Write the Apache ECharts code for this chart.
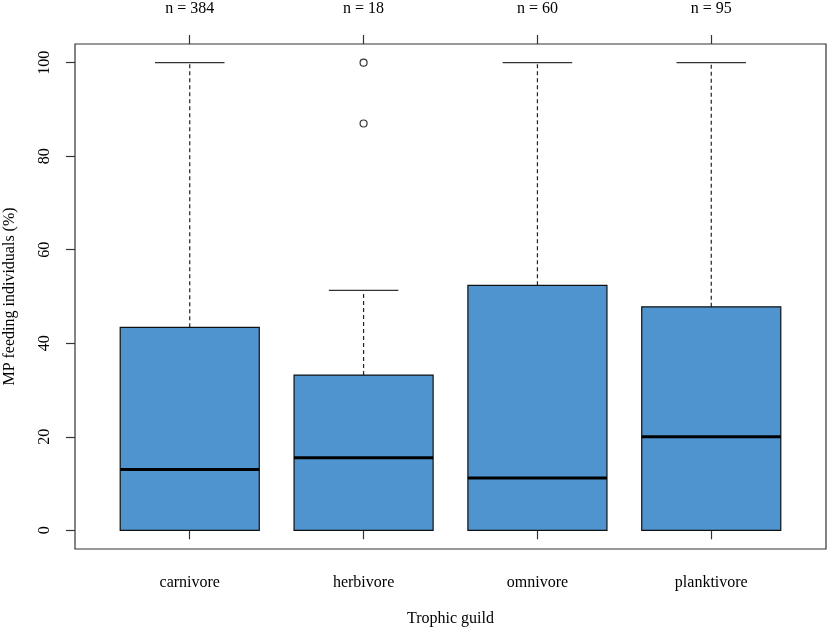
<!DOCTYPE html>
<html>
<head>
<meta charset="utf-8">
<script src="https://cdn.jsdelivr.net/npm/echarts@6/dist/echarts.min.js"></script>
<style>
  html, body { margin: 0; padding: 0; background: #fff; }
  #chart { width: 829px; height: 628px; }
</style>
</head>
<body>
<div id="chart"></div>
<script>
// boxplot stats
var categories = ['carnivore', 'herbivore', 'omnivore', 'planktivore'];
var counts = [384, 18, 60, 95];
var lowerWhisker = [0, 0, 0, 0];
var q1 = [0, 0, 0, 0];
var medians = [13, 15.5, 11.2, 20];
var q3 = [43.4, 33.2, 52.4, 47.8];
var upperWhisker = [100, 51.3, 100, 100];
var outliers = [[], [87, 100], [], []];
var yTicks = [0, 20, 40, 60, 80, 100];
var xTicks = [1, 2, 3, 4];

var font = 'Liberation Serif';

var boxData = categories.map(function (c, i) {
    return [i + 1, lowerWhisker[i], q1[i], medians[i], q3[i], upperWhisker[i]];
});

var outlierData = [];
outliers.forEach(function (list, i) {
    list.forEach(function (v) {
        outlierData.push([i + 1, v]);
    });
});

var renderBox = function (params, api) {
    var x = api.value(0);
    var lo = api.value(1), b1 = api.value(2), med = api.value(3), b3 = api.value(4), hi = api.value(5);
    var hw = 0.4, cw = 0.2;
    var p = function (xx, yy) { return api.coord([xx, yy]); };
    var dash = { stroke: '#222', lineWidth: 1.2, lineDash: [4, 3] };
    var solid = { stroke: '#333', lineWidth: 1.2 };
    var tl = p(x - hw, b3), br = p(x + hw, b1);
    return {
        type: 'group',
        children: [
            { type: 'line', shape: { x1: p(x, b3)[0], y1: p(x, b3)[1], x2: p(x, hi)[0], y2: p(x, hi)[1] }, style: dash },
            { type: 'line', shape: { x1: p(x, lo)[0], y1: p(x, lo)[1], x2: p(x, b1)[0], y2: p(x, b1)[1] }, style: dash },
            { type: 'line', shape: { x1: p(x - cw, hi)[0], y1: p(x - cw, hi)[1], x2: p(x + cw, hi)[0], y2: p(x + cw, hi)[1] }, style: solid },
            { type: 'line', shape: { x1: p(x - cw, lo)[0], y1: p(x - cw, lo)[1], x2: p(x + cw, lo)[0], y2: p(x + cw, lo)[1] }, style: solid },
            { type: 'rect', shape: { x: tl[0], y: tl[1], width: br[0] - tl[0], height: br[1] - tl[1] },
              style: { fill: '#4f94cf', stroke: '#111', lineWidth: 1.2 } },
            { type: 'line', shape: { x1: p(x - hw, med)[0], y1: p(x - hw, med)[1], x2: p(x + hw, med)[0], y2: p(x + hw, med)[1] },
              style: { stroke: '#000', lineWidth: 3 } }
        ]
    };
};

var chart = echarts.init(document.getElementById('chart'));

var option = {
    animation: false,
    backgroundColor: '#fff',
    textStyle: { fontFamily: font },
    grid: {
        left: 75, right: 3, top: 44, bottom: 79,
        outerBoundsMode: 'none',
        containLabel: false,
        show: true, borderColor: '#333', borderWidth: 1.2,
        backgroundColor: 'transparent'
    },
    xAxis: [{
        type: 'value',
        min: 0.34, max: 4.66,
        position: 'bottom',
        name: 'Trophic guild',
        nameLocation: 'middle',
        nameGap: 62,
        nameTextStyle: { fontFamily: font, fontSize: 16, color: '#000' },
        axisLine: { show: false },
        splitLine: { show: false },
        axisTick: { show: true, length: 9, customValues: xTicks, lineStyle: { color: '#333', width: 1.2 } },
        axisLabel: {
            customValues: xTicks, margin: 26,
            fontFamily: font, fontSize: 16, color: '#000',
            formatter: function (v) { return categories[Math.round(v) - 1]; }
        }
    }, {
        type: 'value',
        min: 0.34, max: 4.66,
        position: 'top',
        axisLine: { show: false },
        splitLine: { show: false },
        axisTick: { show: true, length: 9, customValues: xTicks, lineStyle: { color: '#333', width: 1.2 } },
        axisLabel: {
            customValues: xTicks, margin: 27,
            fontFamily: font, fontSize: 16, color: '#000',
            formatter: function (v) { return 'n = ' + counts[Math.round(v) - 1]; }
        }
    }],
    yAxis: {
        type: 'value',
        min: -4, max: 104,
        name: 'MP feeding individuals (%)',
        nameLocation: 'middle',
        nameRotate: 90,
        nameGap: 57,
        nameTextStyle: { fontFamily: font, fontSize: 16, color: '#000' },
        axisLine: { show: false },
        splitLine: { show: false },
        axisTick: { show: true, length: 9, customValues: yTicks, lineStyle: { color: '#333', width: 1.2 } },
        axisLabel: {
            customValues: yTicks, rotate: 90, margin: 22,
            fontFamily: font, fontSize: 16, color: '#000'
        }
    },
    series: [{
        type: 'custom',
        xAxisIndex: 0,
        renderItem: renderBox,
        encode: { x: 0, y: [1, 2, 3, 4, 5] },
        data: boxData
    }, {
        type: 'scatter',
        xAxisIndex: 0,
        symbol: 'circle',
        symbolSize: 7,
        itemStyle: { color: 'transparent', borderColor: '#000', borderWidth: 1.2 },
        data: outlierData
    }]
};

chart.setOption(option);
</script>
</body>
</html>
